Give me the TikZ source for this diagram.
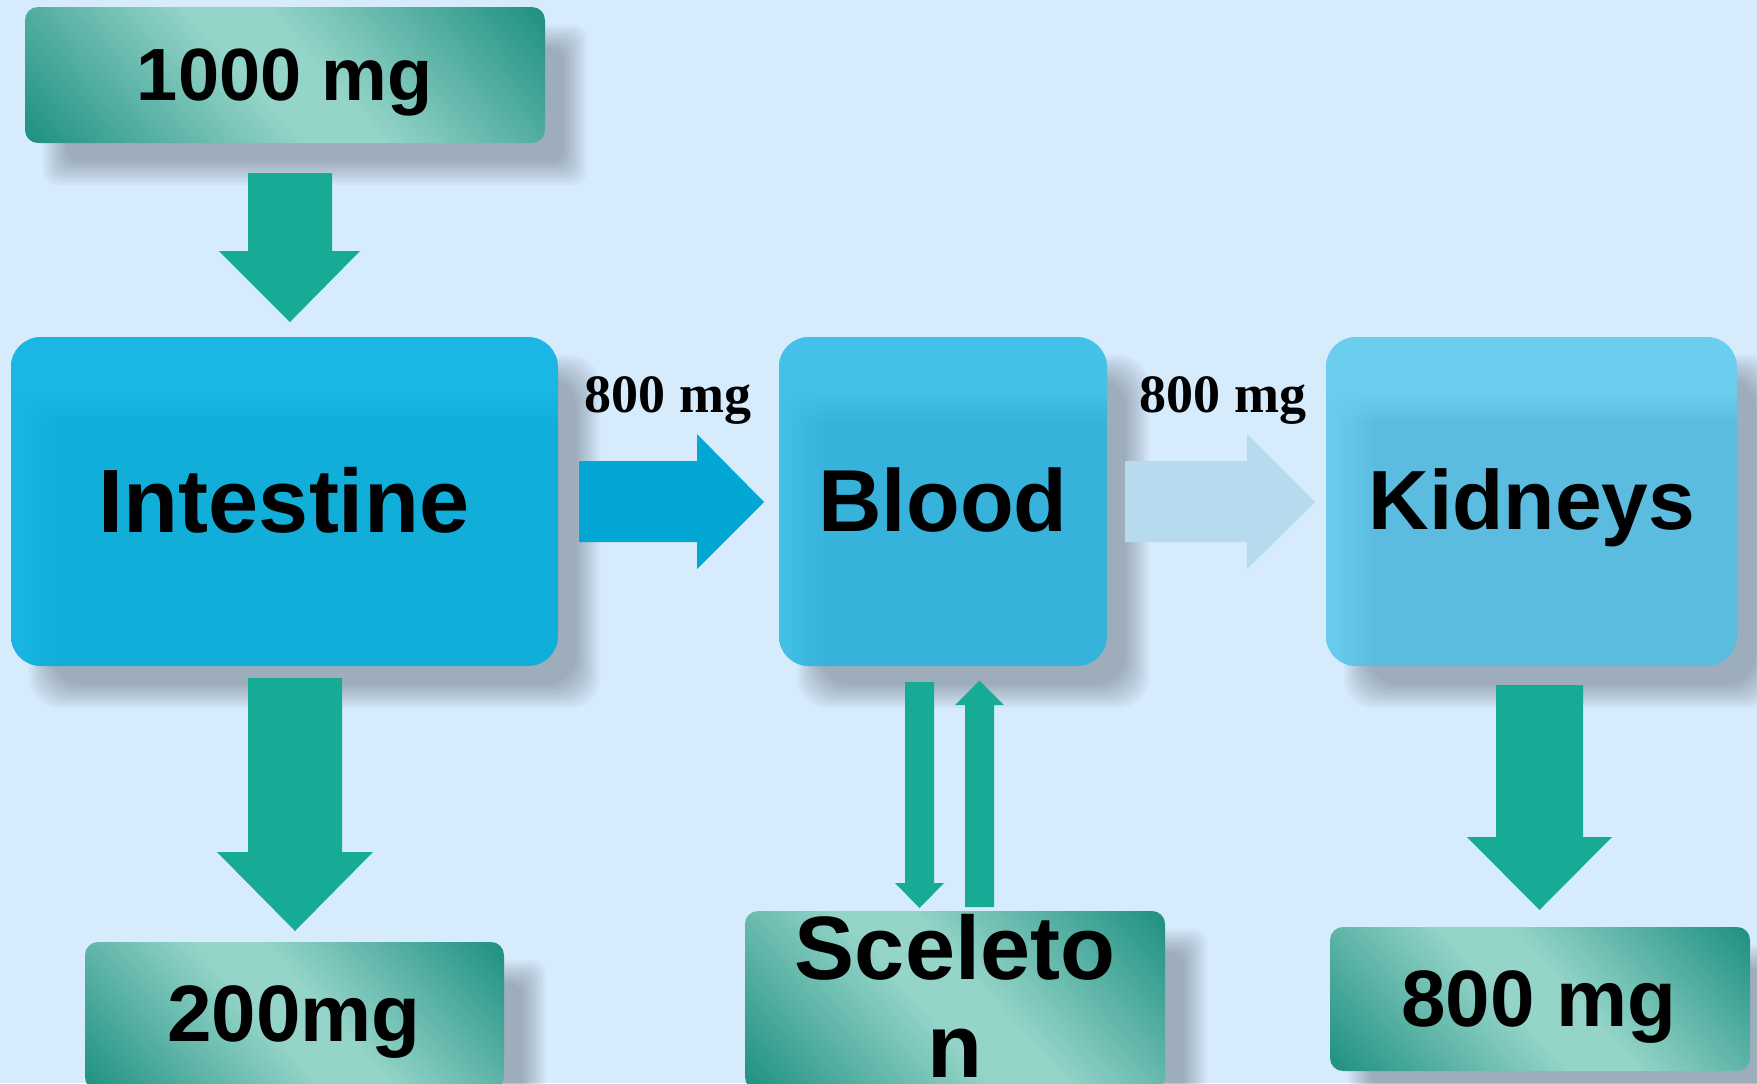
\documentclass[tikz,border=0pt]{standalone}
\usepackage{fontspec}
\setmainfont{Liberation Sans}
\newfontfamily\serifbold{Liberation Serif}
\usetikzlibrary{fadings}
\definecolor{bg}{HTML}{D6EBFC}
\definecolor{gdark}{HTML}{1C8F7F}
\definecolor{glight}{HTML}{95D4C9}
\definecolor{intbase}{HTML}{12AEDA}
\definecolor{intlight}{HTML}{1AB7E4}
\definecolor{blbase}{HTML}{36B2DB}
\definecolor{bllight}{HTML}{44C1E8}
\definecolor{kibase}{HTML}{5BBCDF}
\definecolor{kilight}{HTML}{6CCEEF}
\definecolor{arrgreen}{HTML}{17AA94}
\definecolor{arrblue}{HTML}{02A7D3}
\definecolor{arrpale}{HTML}{B8DAEE}
\tikzfading[name=fadeR, left color=transparent!0, right color=transparent!100]
\pgfdeclarehorizontalshading{grsh}{100bp}{color(0bp)=(gdark); color(25bp)=(gdark); color(47bp)=(glight); color(53bp)=(glight); color(75bp)=(gdark); color(100bp)=(gdark)}
\pgfdeclareverticalshading{intsh}{100bp}{color(0bp)=(intbase); color(62bp)=(intbase); color(67bp)=(intlight); color(100bp)=(intlight)}
\pgfdeclareverticalshading{blsh}{100bp}{color(0bp)=(blbase); color(62bp)=(blbase); color(67bp)=(bllight); color(100bp)=(bllight)}
\pgfdeclareverticalshading{kish}{100bp}{color(0bp)=(kibase); color(62bp)=(kibase); color(67bp)=(kilight); color(100bp)=(kilight)}
\newcommand{\softshadow}[5]{%
  \foreach \k in {0,...,9}{%
    \fill[black,opacity=0.026,rounded corners=#5]
      (#1+18+\k*2.6,#2+18+\k*2.6) rectangle (#3+42-\k*2.6,#4+42-\k*2.6);
  }}
\newcommand{\bluebox}[6]{%
  \shade[shading=#5, rounded corners=15pt] (#1,#2) rectangle (#3,#4);
  \begin{scope}
    \clip[rounded corners=15pt] (#1,#2) rectangle (#3,#4);
    \fill[#6, path fading=fadeR] (#1,#2) rectangle (#1+50,#4);
  \end{scope}}
\newcommand{\greenbox}[4]{%
  \pgfmathsetmacro\gcx{(#1+#3)/2}%
  \pgfmathsetmacro\gcy{(#2+#4)/2}%
  \pgfmathsetmacro\ga{(#3-#1)/2}%
  \pgfmathsetmacro\gb{(#4-#2)/2}%
  \pgfmathsetmacro\gD{\ga*cos(42)+\gb*sin(42)+2}%
  \pgfmathsetmacro\gE{\ga*sin(42)+\gb*cos(42)+2}%
  \begin{scope}
    \clip[rounded corners=6.5pt] (#1,#2) rectangle (#3,#4);
    \shade[shading=grsh, transform canvas={rotate around={42:(\gcx,\gcy)}}]
      (\gcx-\gD,\gcy-\gE) rectangle (\gcx+\gD,\gcy+\gE);
  \end{scope}}
\tikzset{
  garrow/.style={fill=arrgreen},
  bigtxt/.style={inner sep=0pt, anchor=base, font=\fontsize{#1}{#1}\selectfont\bfseries},
  sertxt/.style={inner sep=0pt, anchor=base, font=\fontsize{27pt}{32pt}\selectfont\serifbold\bfseries},
}
\begin{document}
\begin{tikzpicture}[x=0.5pt,y=-0.5pt]
\useasboundingbox (0,0) rectangle (1757,1083);
\fill[bg] (0,0) rectangle (1757,1083);
\clip (0,0) rectangle (1757,1083);

% shadows
\softshadow{25}{7}{545}{143}{6.5pt}
\softshadow{11}{337}{558}{666}{15pt}
\softshadow{779}{337}{1107}{666}{15pt}
\softshadow{1326}{337}{1737}{666}{15pt}
\softshadow{85}{942}{504}{1090}{6.5pt}
\softshadow{745}{911}{1165}{1090}{6.5pt}
\softshadow{1330}{927}{1750}{1071}{6.5pt}

% green boxes
\greenbox{25}{7}{545}{143}
\greenbox{85}{942}{504}{1090}
\greenbox{745}{911}{1165}{1090}
\greenbox{1330}{927}{1750}{1071}

% blue boxes
\bluebox{11}{337}{558}{666}{intsh}{intlight}
\bluebox{779}{337}{1107}{666}{blsh}{bllight}
\bluebox{1326}{337}{1737}{666}{kish}{kilight}

% arrows
\fill[garrow] (248,173) -- (332,173) -- (332,251) -- (360,251) -- (290,322) -- (219,251) -- (248,251) -- cycle;
\fill[garrow] (248,678) -- (342,678) -- (342,852) -- (373,852) -- (295,931) -- (217,852) -- (248,852) -- cycle;
\fill[fill=arrblue] (579,461) -- (697,461) -- (697,434) -- (764,502) -- (697,569) -- (697,542) -- (579,542) -- cycle;
\fill[fill=arrpale] (1125,461) -- (1247,461) -- (1247,434) -- (1315,502) -- (1247,569) -- (1247,542) -- (1125,542) -- cycle;
\fill[garrow] (905,682) -- (934,682) -- (934,883) -- (944,883) -- (919.5,908) -- (895,883) -- (905,883) -- cycle;
\fill[garrow] (965,907) -- (994,907) -- (994,705) -- (1004,705) -- (979.5,680.5) -- (955,705) -- (965,705) -- cycle;
\fill[garrow] (1496,685) -- (1583,685) -- (1583,837) -- (1612,837) -- (1539.5,910) -- (1467,837) -- (1496,837) -- cycle;

% texts
\node[bigtxt=37pt] (t1000) at (285,100) {1000 mg};
\node[bigtxt=45pt] (intestine) at (284,532) {Intestine};
\node[bigtxt=44pt] (blood) at (943,531) {Blood};
\node[bigtxt=42pt] (kidneys) at (1532,529) {Kidneys};
\node[sertxt] (lab1) at (668,412) {800 mg};
\node[sertxt] (lab2) at (1223,412) {800 mg};
\node[bigtxt=40pt] (t200) at (294,1041) {200mg};
\node[bigtxt=45pt] (skel1) at (955,979) {Sceleto};
\node[bigtxt=45pt] (skel2) at (955,1077) {n};
\node[bigtxt=40pt] (t800) at (1539,1026) {800 mg};
\end{tikzpicture}
\end{document}
